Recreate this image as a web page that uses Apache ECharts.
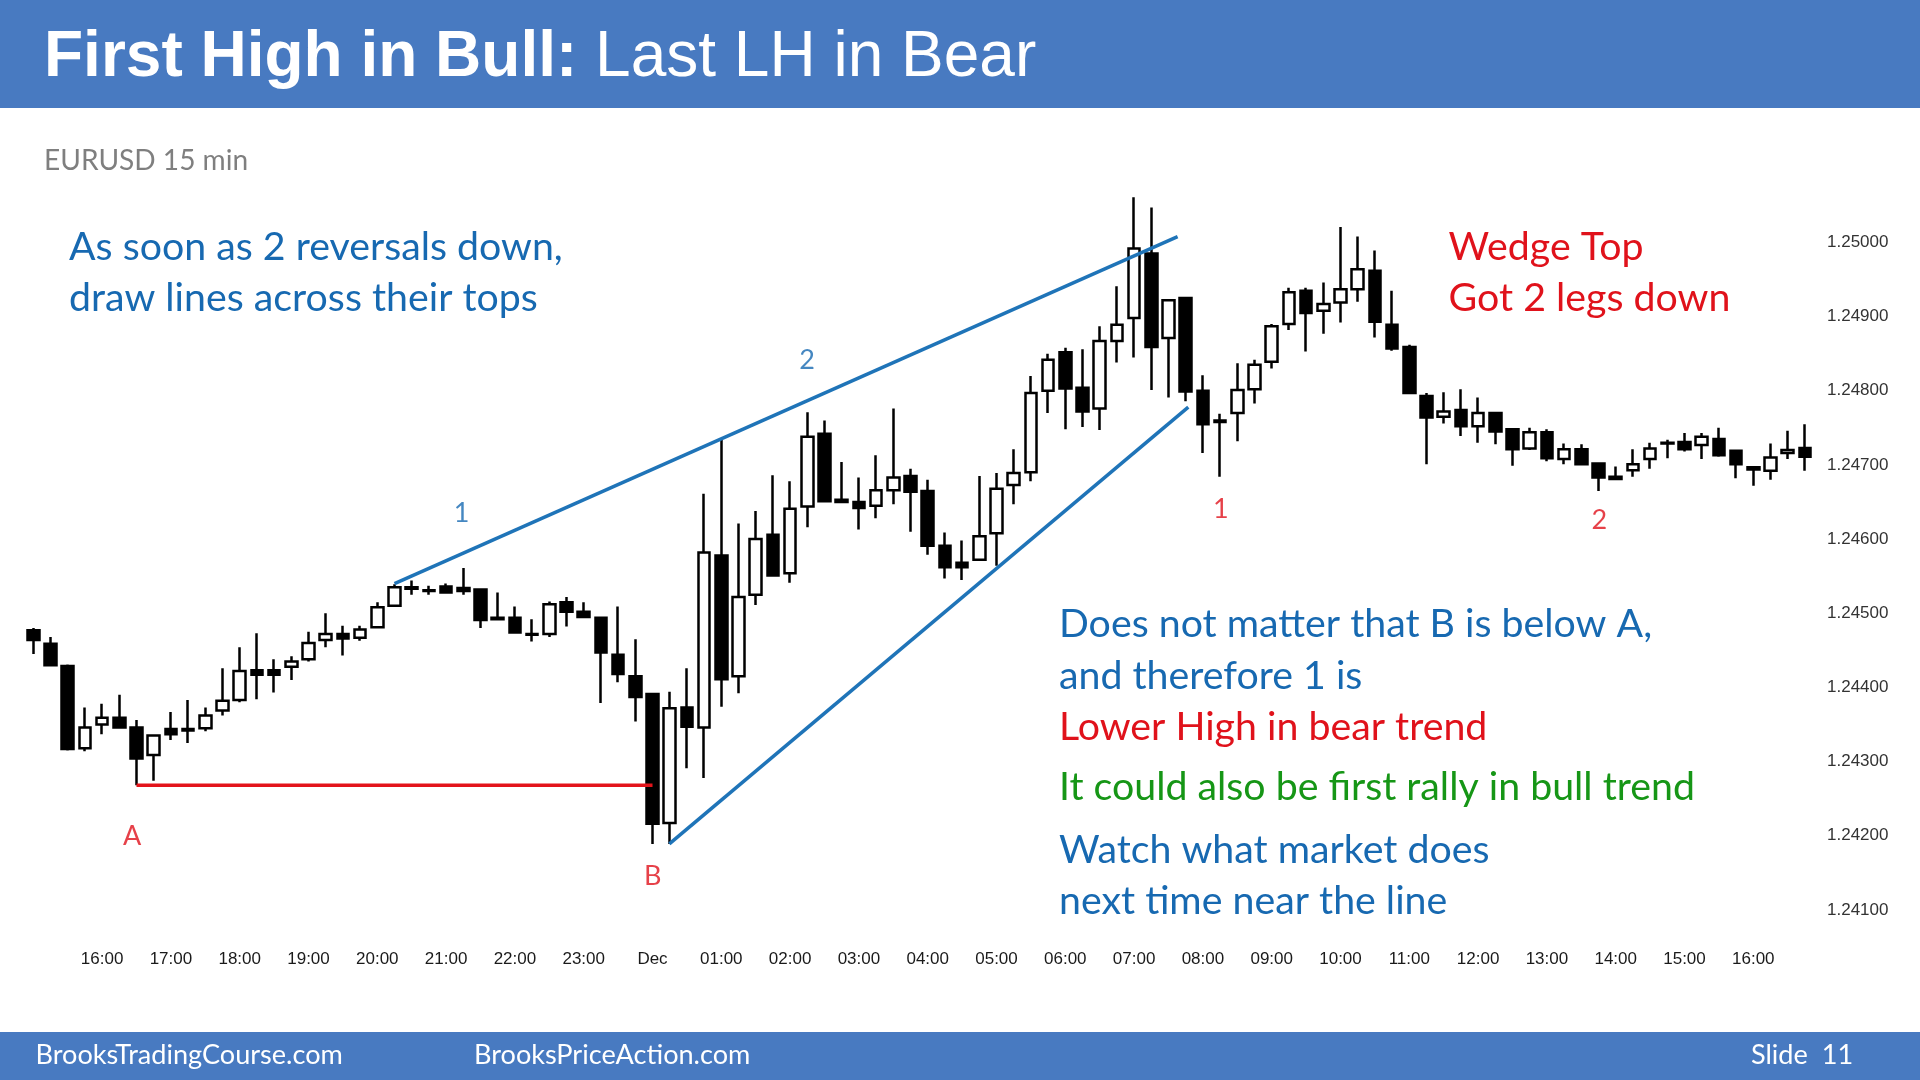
<!DOCTYPE html>
<html>
<head>
<meta charset="utf-8">
<script src="https://cdn.jsdelivr.net/npm/echarts@6/dist/echarts.min.js"></script>
<style>
html,body{margin:0;padding:0;background:#fff;}
#chart{width:1920px;height:1080px;}
</style>
</head>
<body>
<div id="chart"></div>
<script>
// ---------- DATA ----------
const categories = [
'30 15:00','30 15:15','30 15:30','30 15:45',
'30 16:00','30 16:15','30 16:30','30 16:45',
'30 17:00','30 17:15','30 17:30','30 17:45',
'30 18:00','30 18:15','30 18:30','30 18:45',
'30 19:00','30 19:15','30 19:30','30 19:45',
'30 20:00','30 20:15','30 20:30','30 20:45',
'30 21:00','30 21:15','30 21:30','30 21:45',
'30 22:00','30 22:15','30 22:30','30 22:45',
'30 23:00','30 23:15','30 23:30','30 23:45',
'1 00:00','1 00:15','1 00:30','1 00:45',
'1 01:00','1 01:15','1 01:30','1 01:45',
'1 02:00','1 02:15','1 02:30','1 02:45',
'1 03:00','1 03:15','1 03:30','1 03:45',
'1 04:00','1 04:15','1 04:30','1 04:45',
'1 05:00','1 05:15','1 05:30','1 05:45',
'1 06:00','1 06:15','1 06:30','1 06:45',
'1 07:00','1 07:15','1 07:30','1 07:45',
'1 08:00','1 08:15','1 08:30','1 08:45',
'1 09:00','1 09:15','1 09:30','1 09:45',
'1 10:00','1 10:15','1 10:30','1 10:45',
'1 11:00','1 11:15','1 11:30','1 11:45',
'1 12:00','1 12:15','1 12:30','1 12:45',
'1 13:00','1 13:15','1 13:30','1 13:45',
'1 14:00','1 14:15','1 14:30','1 14:45',
'1 15:00','1 15:15','1 15:30','1 15:45',
'1 16:00','1 16:15','1 16:30','1 16:45'
];

const opens = [
1.24477,1.24459,1.24429,1.24318,1.24350,1.24359,1.24346,1.24309,1.24344,1.24344,
1.24345,1.24369,1.24383,1.24423,1.24423,1.24428,1.24438,1.24464,1.24472,1.24467,
1.24481,1.24510,1.24535,1.24531,1.24536,1.24534,1.24532,1.24494,1.24494,1.24472,
1.24472,1.24515,1.24502,1.24494,1.24444,1.24415,1.24391,1.24217,1.24373,1.24346,
1.24578,1.24415,1.24525,1.24606,1.24554,1.24644,1.24742,1.24653,1.24650,1.24645,
1.24666,1.24685,1.24665,1.24591,1.24568,1.24572,1.24608,1.24673,1.24690,1.24800,
1.24852,1.24804,1.24776,1.24867,1.24898,1.24985,1.24871,1.24925,1.24800,1.24760,
1.24770,1.24802,1.24839,1.24890,1.24935,1.24908,1.24919,1.24937,1.24962,1.24889,
1.24859,1.24793,1.24765,1.24774,1.24752,1.24770,1.24748,1.24722,1.24744,1.24708,
1.24721,1.24702,1.24684,1.24693,1.24708,1.24730,1.24731,1.24727,1.24735,1.24719,
1.24697,1.24692,1.24716,1.24723
];
const closes = [
1.24464,1.24430,1.24317,1.24346,1.24359,1.24346,1.24304,1.24335,1.24337,1.24342,
1.24362,1.24382,1.24422,1.24417,1.24417,1.24435,1.24460,1.24472,1.24466,1.24478,
1.24508,1.24535,1.24533,1.24530,1.24528,1.24530,1.24491,1.24492,1.24474,1.24471,
1.24512,1.24502,1.24495,1.24447,1.24418,1.24387,1.24216,1.24372,1.24347,1.24582,
1.24411,1.24522,1.24600,1.24551,1.24641,1.24738,1.24651,1.24650,1.24642,1.24666,
1.24683,1.24664,1.24591,1.24562,1.24562,1.24604,1.24668,1.24689,1.24797,1.24842,
1.24803,1.24772,1.24867,1.24889,1.24992,1.24859,1.24922,1.24799,1.24755,1.24758,
1.24801,1.24835,1.24887,1.24933,1.24905,1.24917,1.24937,1.24964,1.24893,1.24857,
1.24797,1.24764,1.24772,1.24752,1.24770,1.24745,1.24721,1.24744,1.24709,1.24721,
1.24701,1.24683,1.24681,1.24701,1.24722,1.24729,1.24721,1.24738,1.24713,1.24701,
1.24694,1.24710,1.24720,1.24711
];
const lows = [
1.24445,1.24430,1.24315,1.24314,1.24337,1.24346,1.24268,1.24274,1.24329,1.24325,
1.24341,1.24362,1.24380,1.24384,1.24393,1.24410,1.24435,1.24454,1.24443,1.24463,
1.24481,1.24510,1.24525,1.24525,1.24527,1.24525,1.24480,1.24491,1.24474,1.24462,
1.24468,1.24482,1.24495,1.24379,1.24407,1.24354,1.24189,1.24189,1.24291,1.24278,
1.24374,1.24392,1.24511,1.24551,1.24541,1.24616,1.24651,1.24650,1.24613,1.24628,
1.24647,1.24610,1.24579,1.24547,1.24545,1.24572,1.24564,1.24647,1.24678,1.24770,
1.24748,1.24751,1.24747,1.24838,1.24845,1.24801,1.24791,1.24786,1.24716,1.24684,
1.24732,1.24783,1.24830,1.24882,1.24853,1.24877,1.24892,1.24920,1.24872,1.24854,
1.24796,1.24701,1.24756,1.24739,1.24730,1.24728,1.24699,1.24720,1.24705,1.24701,
1.24701,1.24665,1.24681,1.24684,1.24695,1.24709,1.24718,1.24708,1.24711,1.24682,
1.24672,1.24680,1.24708,1.24692
];
const highs = [
1.24480,1.24468,1.24431,1.24373,1.24378,1.24390,1.24356,1.24335,1.24367,1.24383,
1.24373,1.24426,1.24454,1.24473,1.24438,1.24442,1.24475,1.24500,1.24483,1.24483,
1.24515,1.24539,1.24544,1.24537,1.24540,1.24561,1.24532,1.24528,1.24509,1.24492,
1.24516,1.24522,1.24515,1.24494,1.24509,1.24465,1.24392,1.24394,1.24426,1.24661,
1.24734,1.24621,1.24638,1.24686,1.24678,1.24771,1.24760,1.24704,1.24683,1.24713,
1.24776,1.24695,1.24680,1.24609,1.24598,1.24685,1.24689,1.24721,1.24820,1.24850,
1.24858,1.24856,1.24887,1.24941,1.25061,1.25047,1.24922,1.24925,1.24821,1.24769,
1.24837,1.24842,1.24890,1.24939,1.24939,1.24946,1.25021,1.25008,1.24989,1.24935,
1.24862,1.24797,1.24798,1.24802,1.24791,1.24771,1.24748,1.24750,1.24748,1.24729,
1.24728,1.24702,1.24698,1.24721,1.24730,1.24734,1.24743,1.24743,1.24750,1.24719,
1.24697,1.24729,1.24746,1.24755
];

const yTickLabels = ['1.24100','1.24200','1.24300','1.24400','1.24500','1.24600','1.24700','1.24800','1.24900','1.25000'];

// trend / support lines, [candle index, price]
const upperLine = [[21, 1.24540], [66.53, 1.25008]];
const lowerLine = [[36.98, 1.24189], [67.15, 1.24778]];
const redLine = [[6, 1.24268], [36, 1.24268]];

// point labels, [candle index, price, text]
const blueMarks = [[24.9, 1.24635, '1'], [44.98, 1.24841, '2']];
const redMarks = [[5.75, 1.24199, 'A'], [36.01, 1.24145, 'B'], [69.04, 1.24640, '1'], [91.05, 1.24625, '2']];

// ---------- STYLE ----------
const BAR = '#487AC1';
const BLUE_T = '#1769b1';
const RED_T = '#e0121b';
const GREEN_T = '#169616';
const LINE_BLUE = '#1f74b8';
const TXT_FONT = 'Lato, "Open Sans", sans-serif';

const cv = document.createElement('canvas').getContext('2d');
function fit(text, target, weight) {
  cv.font = (weight || 'normal') + ' 100px ' + TXT_FONT;
  return 100 * target / cv.measureText(text).width;
}
const mainLines = [
  ['As soon as 2 reversals down,', 490],
  ['draw lines across their tops', 469],
  ['Does not matter that B is below A,', 592.6],
  ['and therefore 1 is', 303],
  ['Lower High in bear trend', 427],
  ['It could also be first rally in bull trend', 637.6],
  ['Watch what market does', 429.7],
  ['next time near the line', 390.6]
];
let s = 0; mainLines.forEach(l => s += fit(l[0], l[1]));
const mainSize = s / mainLines.length;
const footSize = (fit('BrooksTradingCourse.com', 311) + fit('BrooksPriceAction.com', 274)) / 2;
const subSize = fit('EURUSD 15 min', 204);

function txt(x, y, text, color, size) {
  return { type: 'text', x: x, y: y, silent: true,
    style: { text: text, fill: color, font: size.toFixed(1) + 'px ' + TXT_FONT, align: 'left', verticalAlign: 'middle' } };
}

const candleData = categories.map((c, i) => [opens[i], closes[i], lows[i], highs[i]]);

const chart = echarts.init(document.getElementById('chart'), null, { renderer: 'canvas' });

const graphics = [
  { type: 'rect', shape: { x: 0, y: 0, width: 1920, height: 108 }, style: { fill: BAR }, silent: true },
  { type: 'rect', shape: { x: 0, y: 1032, width: 1920, height: 48 }, style: { fill: BAR }, silent: true },
  { type: 'text', x: 44, y: 58, silent: true, style: {
      text: '{b|First High in Bull:}{r| Last LH in Bear}', verticalAlign: 'middle', align: 'left',
      rich: {
        b: { fill: '#fff', fontFamily: '"Liberation Sans", Arial, sans-serif', fontWeight: 'bold', fontSize: 64 },
        r: { fill: '#fff', fontFamily: '"Liberation Sans", Arial, sans-serif', fontWeight: 'normal', fontSize: 64 }
      } } },
  txt(44, 160.5, 'EURUSD 15 min', '#7f7f7f', subSize),
  txt(69, 247.5, 'As soon as 2 reversals down,', BLUE_T, mainSize),
  txt(69, 298.8, 'draw lines across their tops', BLUE_T, mainSize),
  txt(1448.6, 247.5, 'Wedge Top', RED_T, mainSize),
  txt(1448.6, 298.8, 'Got 2 legs down', RED_T, mainSize),
  txt(1059, 624.8, 'Does not matter that B is below A,', BLUE_T, mainSize),
  txt(1059, 676.2, 'and therefore 1 is', BLUE_T, mainSize),
  txt(1059, 727.6, 'Lower High in bear trend', RED_T, mainSize),
  txt(1059, 787.6, 'It could also be first rally in bull trend', GREEN_T, mainSize),
  txt(1059, 850.1, 'Watch what market does', BLUE_T, mainSize),
  txt(1059, 901.5, 'next time near the line', BLUE_T, mainSize),
  txt(35.5, 1055.5, 'BrooksTradingCourse.com', '#fff', footSize),
  txt(474, 1055.5, 'BrooksPriceAction.com', '#fff', footSize),
  txt(1751, 1055.5, 'Slide  11', '#fff', footSize)
];

function markSeries(list, color) {
  return {
    type: 'scatter', xAxisIndex: 1, yAxisIndex: 0, symbolSize: 0, silent: true,
    data: list.map(m => ({ value: [m[0], m[1]], name: m[2] })),
    label: { show: true, position: 'inside', formatter: p => p.name, color: color,
      fontFamily: TXT_FONT, fontSize: 27 },
    z: 5
  };
}
function lineSeries(pts, color, w) {
  return { type: 'line', xAxisIndex: 1, yAxisIndex: 0, data: pts, symbol: 'none', silent: true,
    lineStyle: { color: color, width: w }, z: 4 };
}

chart.setOption({
  animation: false,
  backgroundColor: '#ffffff',
  grid: { left: 24.7, right: 106.5, top: 168.3, bottom: 133.03, containLabel: false },
  xAxis: [
    { type: 'category', data: categories, boundaryGap: true,
      axisLine: { show: false }, axisTick: { show: false }, splitLine: { show: false },
      axisLabel: {
        interval: (idx, val) => idx > 0 && val.endsWith(':00'),
        formatter: v => { const t = v.split(' ')[1]; return t === '00:00' ? 'Dec' : t; },
        color: '#1a1a1a', fontFamily: '"Liberation Sans", Arial, sans-serif', fontSize: 17, margin: 3.5
      } },
    { type: 'value', min: -0.5, max: 103.5, show: false }
  ],
  yAxis: {
    type: 'value', position: 'right', min: 1.2405, max: 1.2510, interval: 0.0005, scale: true,
    axisLine: { show: false }, axisTick: { show: false }, splitLine: { show: false },
    axisLabel: {
      formatter: v => { const s = v.toFixed(5); return yTickLabels.includes(s) ? s : ''; },
      color: '#333', fontFamily: '"Liberation Sans", Arial, sans-serif', fontSize: 17, margin: 13.5
    }
  },
  series: [
    { type: 'candlestick', xAxisIndex: 0, yAxisIndex: 0, data: candleData, barWidth: 12, silent: true,
      itemStyle: { color: '#ffffff', color0: '#000000', borderColor: '#000000', borderColor0: '#000000', borderWidth: 2.5 },
      z: 3 },
    lineSeries(upperLine, LINE_BLUE, 3.5),
    lineSeries(lowerLine, LINE_BLUE, 3.5),
    lineSeries(redLine, '#e3141b', 3.5),
    markSeries(blueMarks, BLUE_T),
    markSeries(redMarks, RED_T)
  ],
  graphic: graphics
});
</script>
</body>
</html>
